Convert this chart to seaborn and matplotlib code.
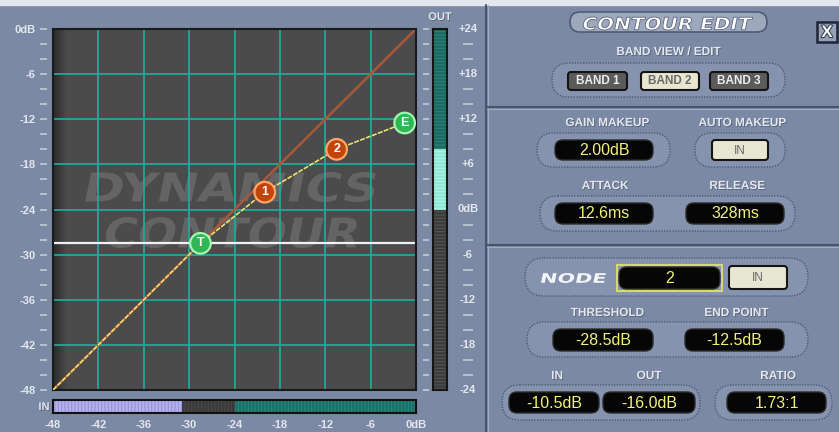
import matplotlib
matplotlib.use("Agg")
import matplotlib.pyplot as plt
import matplotlib.patheffects as pe
import numpy as np
import seaborn as sns
from matplotlib.patches import FancyBboxPatch, Rectangle, PathPatch
from matplotlib.textpath import TextPath
from matplotlib.font_manager import FontProperties
from matplotlib.transforms import Affine2D

W, H = 839, 432

# ---- chart data ----
grid_db = [-42, -36, -30, -24, -18, -12, -6]
minor_db = list(range(-48, 1, 2))
in_ticks = [-48, -42, -36, -30, -24, -18, -12, -6, 0]
in_labels = ["-48", "-42", "-36", "-30", "-24", "-18", "-12", "-6", "0dB"]
out_ticks = [0, -6, -12, -18, -24, -30, -36, -42, -48]
out_labels = ["0dB", "-6", "-12", "-18", "-24", "-30", "-36", "-42", "-48"]

unity_db = [-48, 0]
node_in = [-28.5, -20.0, -10.5, -1.5]
node_out = [-28.5, -21.7, -16.0, -12.5]
node_names = ["T", "1", "2", "E"]
node_kind = ["limit", "node", "node", "limit"]
curve_in = [-48.0] + node_in
curve_out = [-48.0] + node_out
threshold = -28.5

in_seg_start = [-48, -31, -24]
in_seg_end = [-31, -24, 0]
out_seg_start = [-24, 0, 8]
out_seg_end = [0, 8, 24]
meter_ticks = [24, 18, 12, 6, 0, -6, -12, -18, -24]
meter_labels = ["+24", "+18", "+12", "+6", "0dB", "-6", "-12", "-18", "-24"]
meter_minor = list(range(-24, 25, 2))

band_buttons = ["BAND 1", "BAND 2", "BAND 3"]
active_band = "BAND 2"
gain_makeup = "2.00dB"
attack = "12.6ms"
release = "328ms"
node_sel = "2"
thresh_txt = "-28.5dB"
end_point = "-12.5dB"
node_in_txt = "-10.5dB"
node_out_txt = "-16.0dB"
ratio_txt = "1.73:1"

# ---- style ----
sns.set_style("white")
plt.rcParams['font.family'] = ['Liberation Sans', 'DejaVu Sans']
plt.rcParams['hatch.linewidth'] = 0.7

BG = '#7b89a4'
LABEL = '#e3e7ee'
YEL = '#f2f27a'
TEAL = '#1fa89b'

fig = plt.figure(figsize=(W / 100, H / 100), dpi=100, facecolor=BG)


def box(x0, y0, x1, y1):
    return [x0 / W, 1 - y1 / H, (x1 - x0) / W, (y1 - y0) / H]


# overlay in pixel coords (y down)
ov = fig.add_axes([0, 0, 1, 1])
ov.set_xlim(0, W)
ov.set_ylim(H, 0)
ov.axis('off')


def stretched(target, s, x_left, y_base, width, cap, color, skew=12, z=1, ec='none', lw=0):
    fp = FontProperties(family='DejaVu Sans', weight='bold')
    tp = TextPath((0, 0), s, size=1, prop=fp)
    ext = tp.get_extents()
    tr = (Affine2D().translate(-ext.x0, -ext.y0)
          .scale(width / ext.width, cap / ext.height)
          .skew_deg(skew, 0).scale(1, -1)
          .translate(x_left, y_base) + ov.transData)
    target.add_patch(PathPatch(tp, transform=tr, fc=color, ec=ec, lw=lw, zorder=z))


def label(x, y, s, size=8.5):
    ov.text(x, y, s, ha='center', va='center', fontsize=size, weight='bold', color=LABEL,
            path_effects=[pe.withSimplePatchShadow(offset=(0.6, -0.6), shadow_rgbFace='#4d5870', alpha=0.8)])


def pill(x0, y0, x1, y1):
    ov.add_patch(FancyBboxPatch((x0, y0), x1 - x0, y1 - y0,
                                boxstyle=f"round,pad=0,rounding_size={(y1 - y0) / 2}",
                                fc='#8693ae', ec='#4f5b76', lw=1, ls=(0, (1, 1))))


def display(x0, y0, x1, y1, s):
    ov.add_patch(FancyBboxPatch((x0, y0), x1 - x0, y1 - y0,
                                boxstyle="round,pad=0,rounding_size=8",
                                fc='#060606', ec='#2c2c2c', lw=1))
    ov.text((x0 + x1) / 2, (y0 + y1) / 2 + 0.5, s, ha='center', va='center',
            fontsize=11.5, color=YEL)


def button(x0, y0, x1, y1, s, active, bold=True):
    fc = '#e6e6d1' if active else '#5b5b5b'
    tc = '#6a6a6a' if active else '#ececec'
    ov.add_patch(FancyBboxPatch((x0, y0), x1 - x0, y1 - y0,
                                boxstyle="round,pad=0,rounding_size=3",
                                fc=fc, ec='#151515', lw=1.5))
    ov.text((x0 + x1) / 2, (y0 + y1) / 2 + 0.5, s, ha='center', va='center',
            fontsize=8.5, weight='bold' if bold else 'normal', color=tc)


# frame pieces
ov.add_patch(Rectangle((0, 0), W, 5, color='#e4e8ee'))
ov.plot([486, 486], [5, H], color='#4a556d', lw=1.5)
ov.plot([488, 488], [5, H], color='#a2acc2', lw=0.8)
for yy in [107, 245]:
    ov.plot([487, W], [yy, yy], color='#4a556d', lw=1.5)
    ov.plot([487, W], [yy + 2, yy + 2], color='#a2acc2', lw=0.8)

# ---- right panel ----
ov.add_patch(FancyBboxPatch((570, 12), 197, 20, boxstyle="round,pad=0,rounding_size=10",
                            fc='#9ea8bd', ec='#4f5b75', lw=1.2))
stretched(ov, "CONTOUR EDIT", 582, 30, 168, 13, 'white', ec='#5a6680', lw=0.6, z=3)
ov.add_patch(Rectangle((817, 22), 20, 20, fc='#95a1b7', ec='#1f2535', lw=1.8))
ov.text(827, 32.5, "X", ha='center', va='center', fontsize=12, weight='bold', color='white',
        path_effects=[pe.withStroke(linewidth=1.5, foreground='#333a4a')])

label(668, 52, "BAND VIEW / EDIT")
pill(552, 63, 785, 97)
for (bx0, bx1), name in zip([(568, 627), (641, 699), (710, 768)], band_buttons):
    button(bx0, 72, bx1, 90, name, name == active_band)

label(607, 123, "GAIN MAKEUP")
label(742, 123, "AUTO MAKEUP")
pill(537, 133, 670, 167)
pill(695, 133, 785, 167)
display(555, 140, 653, 160, gain_makeup)
button(712, 140, 768, 160, "IN", True, bold=False)

label(605, 186, "ATTACK")
label(737, 186, "RELEASE")
pill(540, 196, 795, 231)
display(555, 203, 653, 224, attack)
display(686, 203, 784, 224, release)

pill(525, 258, 808, 296)
stretched(ov, "NODE", 541, 283, 63, 10, '#f2f4f7', z=3)
ov.add_patch(Rectangle((617, 265), 105, 26, fc='none', ec='#d8d872', lw=1.5))
display(619, 267, 720, 289, node_sel)
button(729, 266, 787, 289, "IN", True, bold=False)

label(607, 313, "THRESHOLD")
label(736, 313, "END POINT")
pill(527, 322, 808, 357)
display(553, 329, 653, 351, thresh_txt)
display(685, 329, 784, 351, end_point)

label(557, 376, "IN")
label(649, 376, "OUT")
label(778, 376, "RATIO")
pill(502, 385, 700, 420)
pill(715, 385, 832, 420)
display(509, 392, 599, 413, node_in_txt)
display(603, 392, 695, 413, node_out_txt)
display(727, 392, 826, 413, ratio_txt)

# ---- main contour plot ----
ax = fig.add_axes(box(53, 29, 416, 390))
ax.set_facecolor('#4b4b4b')
shade = np.linspace(0.45, 0, 40)
rgba = np.zeros((1, 40, 4))
rgba[0, :, 3] = shade
ax.imshow(rgba, extent=[-48, -46.2, -48, 0], aspect='auto', zorder=0.1)
stretched(ax, "DYNAMICS", 85, 202, 287, 30, '#646464', z=0.3)
stretched(ax, "CONTOUR", 103, 248, 253, 31, '#646464', z=0.3)
ax.set_xticks(grid_db)
ax.set_yticks(grid_db)
ax.tick_params(length=0, labelbottom=False, labelleft=False)
ax.grid(True, color=TEAL, lw=1.3)
ax.set_axisbelow(True)
for sp in ax.spines.values():
    sp.set_color('#1a1a1a')
    sp.set_linewidth(1.5)

ax.axhline(threshold, color='#f2f2f2', lw=1.6, zorder=1.5)
sns.lineplot(x=unity_db, y=unity_db, ax=ax, color='#a9573d', lw=1.8, zorder=2)
sns.lineplot(x=curve_in, y=curve_out, ax=ax, color='#e8e272', lw=1.2,
             linestyle=(0, (3, 0.8)), zorder=3)
edge_map = {'limit': '#a4f5b0', 'node': '#ffa566'}
sns.scatterplot(x=node_in, y=node_out, hue=node_kind, ax=ax,
                palette={'limit': '#2fb655', 'node': '#c1450b'}, s=220,
                edgecolor=[edge_map[k] for k in node_kind], linewidth=1.6,
                legend=False, zorder=4)
for xi, yi, nm in zip(node_in, node_out, node_names):
    ax.text(xi, yi, nm, ha='center', va='center', fontsize=9, weight='bold',
            color='white', zorder=5)
ax.set_xlim(-48, 0)
ax.set_ylim(-48, 0)
ax.set_xlabel('')
ax.set_ylabel('')

# left dB scale
sax = fig.add_axes(box(40, 29, 47, 390))
sax.hlines(minor_db, 0, 1, color='#c9d0dc', lw=1.1, clip_on=False)
sax.set_xlim(0, 1)
sax.set_ylim(-48, 0)
sax.set_xticks([])
sax.set_yticks(out_ticks, out_labels)
sax.tick_params(length=0, pad=3, labelsize=8, labelcolor=LABEL)
for t in sax.get_yticklabels():
    t.set_fontweight('bold')
sax.set_facecolor('none')
for sp in sax.spines.values():
    sp.set_visible(False)

# input meter
imax = fig.add_axes(box(53, 400, 416, 413))
in_colors = ['#b2b0ef', '#3a3a3a', '#1b6f68']
in_hatch = ['#9391d6', '#4a4a4a', '#2b8a80']
for a, b, c, hc in zip(in_seg_start, in_seg_end, in_colors, in_hatch):
    imax.barh(0.5, b - a, left=a, height=1, color=c, edgecolor=hc, hatch='|||||', lw=0)
imax.set_xlim(-48, 0)
imax.set_ylim(0, 1)
imax.set_yticks([])
imax.set_xticks(in_ticks, in_labels)
imax.tick_params(length=0, pad=5, labelsize=8, labelcolor=LABEL)
for t in imax.get_xticklabels():
    t.set_fontweight('bold')
for sp in imax.spines.values():
    sp.set_color('#111111')
    sp.set_linewidth(1.5)
label(44, 407, "IN", size=8)

# output meter
omax = fig.add_axes(box(433, 29, 447, 390))
out_colors = ['#3c3c3c', '#8ee8d4', '#1c6a62']
out_hatch = ['#565656', '#b4f7e8', '#2b8379']
for a, b, c, hc in zip(out_seg_start, out_seg_end, out_colors, out_hatch):
    omax.bar(0.5, b - a, bottom=a, width=1, color=c, edgecolor=hc, hatch='-----', lw=0)
omax.set_xlim(0, 1)
omax.set_ylim(-24, 24)
omax.set_xticks([])
omax.set_yticks([])
for sp in omax.spines.values():
    sp.set_color('#161616')
    sp.set_linewidth(1.5)
label(440, 17, "OUT", size=8)

lm = fig.add_axes(box(423, 29, 429, 390))
lm.hlines(meter_minor, 0, 1, color='#c9d0dc', lw=1.1, clip_on=False)
rm = fig.add_axes(box(463, 29, 473, 390))
rm.hlines([v for v in meter_minor if v % 6 != 0], 0, 1, color='#c9d0dc', lw=1.1, clip_on=False)
for v, s in zip(meter_ticks, meter_labels):
    rm.text(0.5, v, s, ha='center', va='center', fontsize=8, weight='bold', color=LABEL)
for a in (lm, rm):
    a.set_xlim(0, 1)
    a.set_ylim(-24, 24)
    a.axis('off')

fig.savefig("out.png", dpi=100, facecolor=BG)
